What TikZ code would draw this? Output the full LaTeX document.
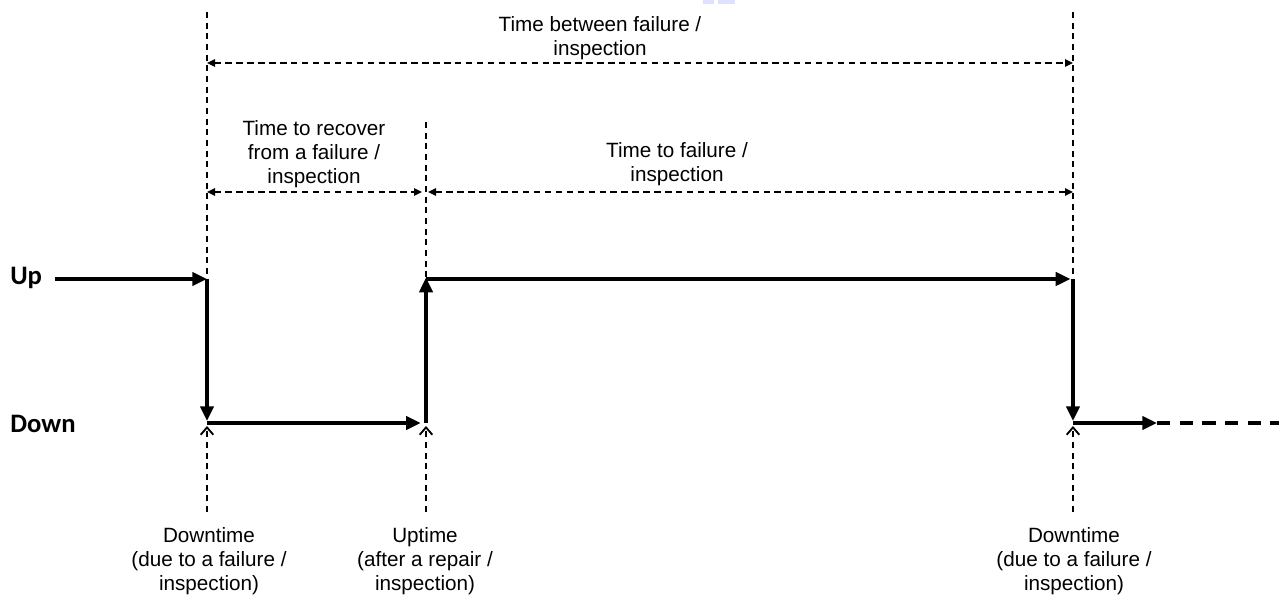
\documentclass[tikz,border=0pt]{standalone}
\usepackage{fontspec}
\setmainfont{Liberation Sans}
\newfontfamily\statefont{Carlito}
\usetikzlibrary{arrows.meta}

\begin{document}
\begin{tikzpicture}[x=0.75pt,y=-0.75pt,
  signal/.style={line width=2.4pt,-{Triangle[length=11pt,width=10pt]}},
  span/.style={line width=1.4pt,dash pattern=on 4.8pt off 3.4pt,
    {Triangle[length=6pt,width=5.5pt]}-{Triangle[length=6pt,width=5.5pt]}},
  guide/.style={line width=1.4pt,dash pattern=on 4.5pt off 3.5pt},
  marker/.style={guide,-{Straight Barb[length=5.5pt,width=9.5pt,line width=1.4pt]}},
  tail/.style={line width=2.4pt,dash pattern=on 10pt off 7pt},
  caption/.style={align=center,inner sep=0pt,font=\fontsize{15.5}{18}\selectfont},
  state/.style={anchor=base west,inner sep=0pt,font=\statefont\bfseries\fontsize{20}{24}\selectfont}]

\useasboundingbox (0,0) rectangle (1279,598);

% small tinted mark at the upper edge
\fill[blue!12!white] (703,0) rectangle (714,4);
\fill[blue!12!white] (718,0) rectangle (735,4);

% level labels
\node[state] (up) at (10,285) {Up};
\node[state] (down) at (10,433) {Down};

% key points of the state signal
\coordinate (s0) at (55,279);
\coordinate (a) at (207,279);
\coordinate (b) at (207,423);
\coordinate (c) at (426,423);
\coordinate (d) at (426,279);
\coordinate (e) at (1073,279);
\coordinate (f) at (1073,423);
\coordinate (g) at (1157,423);
\coordinate (h) at (1279,423);

% vertical reference lines (upper part)
\coordinate (ta) at (207,12);
\coordinate (td) at (426,122);
\coordinate (te) at (1073,12);
\draw[guide] (ta) -- (a);
\draw[guide] (td) -- (d);
\draw[guide] (te) -- (e);

% event markers below the Down level
\coordinate (ma) at (207,512);
\coordinate (mc) at (426,512);
\coordinate (mf) at (1073,512);
\coordinate (ma2) at (207,426);
\coordinate (mc2) at (426,426);
\coordinate (mf2) at (1073,426);
\draw[marker] (ma) -- (ma2);
\draw[marker] (mc) -- (mc2);
\draw[marker] (mf) -- (mf2);

% state signal
\draw[signal] (s0) -- (a);
\draw[signal,shorten >=1.5pt] (a) -- (b);
\draw[signal,shorten >=4pt] (b) -- (c);
\draw[signal,shorten >=-1pt] (c) -- (d);
\draw[signal,shorten >=2pt] (d) -- (e);
\draw[signal,shorten >=1.5pt] (e) -- (f);
\draw[signal] (f) -- (g);
\draw[tail] (g) -- (h);

% interval spans
\coordinate (p1) at (207,63);
\coordinate (p2) at (1073,63);
\coordinate (q1) at (207,192);
\coordinate (q2) at (422,192);
\coordinate (q3) at (428,192);
\coordinate (q4) at (1073,192);
\draw[span] (p1) -- (p2);
\draw[span] (q1) -- (q2);
\draw[span] (q3) -- (q4);

% interval captions
\node[caption] (tbf) at (600,38) {Time between failure /\\inspection};
\node[caption] (ttr) at (314,154) {Time to recover\\from a failure /\\inspection};
\node[caption] (ttf) at (677,164) {Time to failure /\\inspection};

% event captions
\node[caption] (ev1) at (209,561) {Downtime\\(due to a failure /\\inspection)};
\node[caption] (ev2) at (425,561) {Uptime\\(after a repair /\\inspection)};
\node[caption] (ev3) at (1074,561) {Downtime\\(due to a failure /\\inspection)};
\end{tikzpicture}
\end{document}
